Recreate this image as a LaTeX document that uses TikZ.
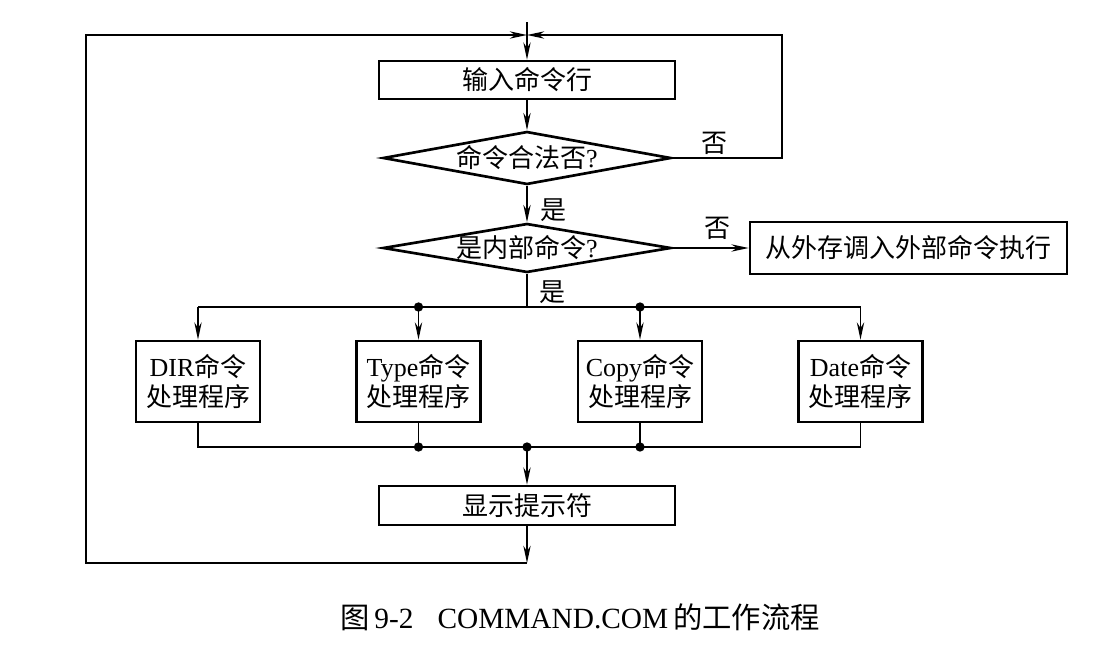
\documentclass[tikz,border=0pt]{standalone}
\usepackage{fontspec}
\setmainfont{Liberation Serif}
\newfontfamily\cjk{Noto Sans CJK SC}
\usetikzlibrary{shapes.geometric,arrows.meta}
\tikzset{
  boxstyle/.style={draw, line width=2pt, inner sep=0pt, align=center,
    font=\cjk\fontsize{19.5}{23}\selectfont},
  diastyle/.style={draw, diamond, line width=2pt, inner sep=0pt,
    font=\cjk\fontsize{19.5}{23}\selectfont},
  conn/.style={line width=1.2pt},
  arr/.style={line width=1.2pt, -{Stealth[length=13pt,width=5.5pt]}},
  lab/.style={font=\cjk\fontsize{19.5}{23}\selectfont, inner sep=0pt},
  dotstyle/.style={circle, fill=black, inner sep=0pt, minimum size=7pt}
}
\begin{document}
\begin{tikzpicture}[x=0.75pt,y=-0.75pt]
\useasboundingbox[fill=white] (0,0) rectangle (1093,646);

% nodes
\node[boxstyle, minimum width=222pt, minimum height=28.5pt] (in) at (527,80) {输入命令行};
\node[diastyle, minimum width=216pt, minimum height=39.75pt, shape aspect=5.4] (d1) at (527,158) {命令合法否\textrm{?}};
\node[diastyle, minimum width=216pt, minimum height=36.75pt, shape aspect=5.8] (d2) at (527,248) {是内部命令\textrm{?}};
\node[boxstyle, minimum width=237.75pt, minimum height=39pt] (ext) at (908.5,248) {从外存调入外部命令执行};
\node[boxstyle, minimum width=93pt, minimum height=60.75pt] (b1) at (198,381.5) {\textrm{DIR}命令\\处理程序};
\node[boxstyle, minimum width=93pt, minimum height=60.75pt] (b2) at (418.5,381.5) {\textrm{Type}命令\\处理程序};
\node[boxstyle, minimum width=93pt, minimum height=60.75pt] (b3) at (640,381.5) {\textrm{Copy}命令\\处理程序};
\node[boxstyle, minimum width=93pt, minimum height=60.75pt] (b4) at (860.5,381.5) {\textrm{Date}命令\\处理程序};
\node[boxstyle, minimum width=222pt, minimum height=29.25pt] (disp) at (527,505.5) {显示提示符};

% coordinates
\coordinate (entry) at (527,22);
\coordinate (tj) at (527,35);
\coordinate (tl) at (86,35);
\coordinate (bl) at (86,563);
\coordinate (bj) at (527,563);
\coordinate (tr) at (782,35);
\coordinate (rm) at (782,158);
\coordinate (split) at (527,307);
\coordinate (merge) at (527,447);

% top loop and main flow
\draw[arr] (entry) -- (in.north);
\draw[arr] (in.south) -- (d1.north);
\draw[arr] (d1.east) -- (rm) -- (tr) -- (tj);
\draw[arr] (d1.south) -- (d2.north);
\draw[arr] (d2.east) -- (ext.west);
\draw[conn] (d2.south) -- (split);

% split line
\draw[conn] (b1.north |- split) -- (b4.north |- split);
\foreach \b in {b1,b2,b3,b4}{
  \draw[arr] (\b.north |- split) -- (\b.north);
}
\node[dotstyle] (s2) at (b2.north |- split) {};
\node[dotstyle] (s3) at (b3.north |- split) {};

% merge line
\draw[conn] (b1.south) -- (b1.south |- merge) -- (b4.south |- merge) -- (b4.south);
\draw[conn] (b2.south) -- (b2.south |- merge);
\draw[conn] (b3.south) -- (b3.south |- merge);
\node[dotstyle] (m2) at (b2.south |- merge) {};
\node[dotstyle] (m3) at (b3.south |- merge) {};
\node[dotstyle] (m0) at (merge) {};
\draw[arr] (merge) -- (disp.north);

% bottom loop
\draw[arr] (disp.south) -- (bj);
\draw[arr] (bj) -- (bl) -- (tl) -- (tj);

% labels
\node[lab] (no1) at (714,143) {否};
\node[lab] (yes1) at (553,210) {是};
\node[lab] (no2) at (717,228) {否};
\node[lab] (yes2) at (552,292) {是};

% caption
\node[inner sep=0pt, font=\fontsize{22}{25}\selectfont] (cap) at (580,617)
  {{\cjk 图}\,9-2\hspace{18pt}COMMAND.COM\,{\cjk 的工作流程}};
\end{tikzpicture}
\end{document}
